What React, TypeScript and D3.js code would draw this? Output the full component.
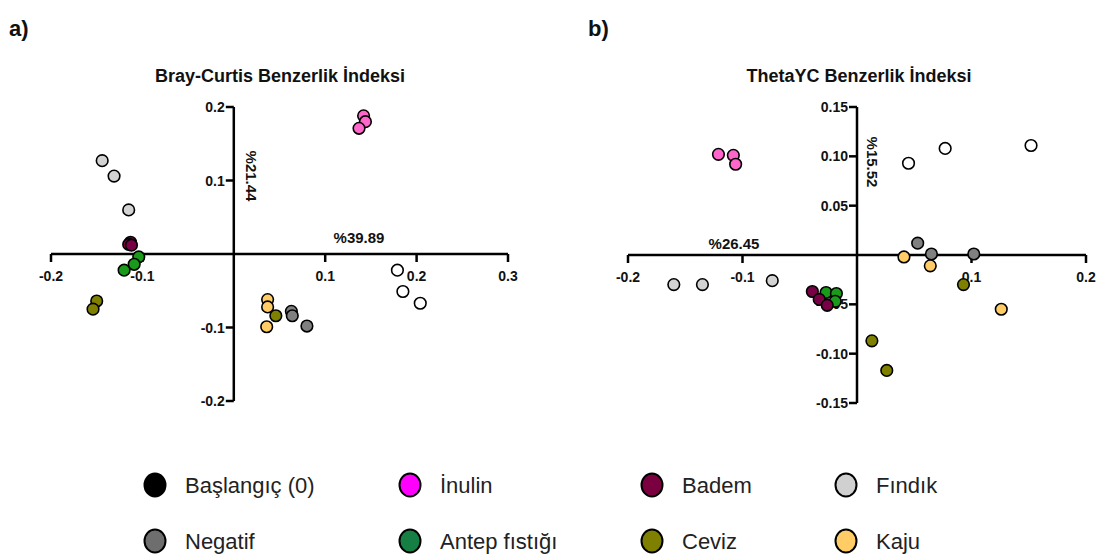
import React from "react";
import * as d3 from "d3";

type Pt = [number, number];

const groups = ["Başlangıç (0)", "İnulin", "Badem", "Fındık", "Negatif", "Antep fıstığı", "Ceviz", "Kaju"];
const legendColors = ["#000000", "#ff00ff", "#7a0040", "#d0d0d0", "#6e6e6e", "#168044", "#7f7f00", "#ffcc66"];
const pointColors = ["#ffffff", "#ff66cc", "#7a0046", "#d3d3d3", "#808080", "#1a9a1a", "#808000", "#ffcc66"];

// Panel a: Bray-Curtis
const bcBaslangic: Pt[] = [[0.179, -0.022], [0.185, -0.051], [0.204, -0.067]];
const bcInulin: Pt[] = [[0.142, 0.188], [0.144, 0.180], [0.137, 0.171]];
const bcBadem: Pt[] = [[-0.113, 0.016], [-0.115, 0.013], [-0.112, 0.012]];
const bcFindik: Pt[] = [[-0.144, 0.127], [-0.131, 0.106], [-0.115, 0.060]];
const bcNegatif: Pt[] = [[0.063, -0.078], [0.064, -0.084], [0.080, -0.098]];
const bcAntep: Pt[] = [[-0.104, -0.004], [-0.109, -0.014], [-0.120, -0.022]];
const bcCeviz: Pt[] = [[-0.150, -0.064], [-0.154, -0.075], [0.046, -0.084]];
const bcKaju: Pt[] = [[0.037, -0.062], [0.037, -0.072], [0.036, -0.099]];

// Panel b: ThetaYC
const tyBaslangic: Pt[] = [[0.045, 0.093], [0.077, 0.108], [0.152, 0.111]];
const tyInulin: Pt[] = [[-0.121, 0.102], [-0.108, 0.101], [-0.106, 0.092]];
const tyFindik: Pt[] = [[-0.160, -0.030], [-0.135, -0.030], [-0.074, -0.026]];
const tyNegatif: Pt[] = [[0.053, 0.012], [0.065, 0.001], [0.102, 0.001]];
const tyAntep: Pt[] = [[-0.027, -0.038], [-0.018, -0.039], [-0.019, -0.047]];
const tyBadem: Pt[] = [[-0.039, -0.037], [-0.033, -0.045], [-0.026, -0.051]];
const tyCeviz: Pt[] = [[0.013, -0.087], [0.026, -0.117], [0.093, -0.030]];
const tyKaju: Pt[] = [[0.041, -0.002], [0.064, -0.011], [0.126, -0.055]];

const bcXTicks = [-0.2, -0.1, 0.1, 0.2, 0.3];
const bcYTicks = [0.2, 0.1, -0.1, -0.2];
const tyXTicks = [-0.2, -0.1, 0.1, 0.2];
const tyYTicks = [0.15, 0.1, 0.05, -0.05, -0.1, -0.15];

const FONT = "Liberation Sans, Arial, Helvetica, sans-serif";

interface PanelProps {
  label: string;
  title: string;
  xDomain: [number, number];
  yDomain: [number, number];
  xRange: [number, number];
  yRange: [number, number];
  xTicks: number[];
  yTicks: number[];
  xFmt: (v: number) => string;
  yFmt: (v: number) => string;
  series: { data: Pt[]; color: string }[];
  labelPos: [number, number];
  titleX: number;
  xLab: string;
  xLabPos: [number, number];
  yLab: string;
  yLabPos: [number, number];
}

function Panel(p: PanelProps) {
  const x = d3.scaleLinear().domain(p.xDomain).range(p.xRange);
  const y = d3.scaleLinear().domain(p.yDomain).range(p.yRange);
  const x0 = x(0);
  const y0 = y(0);
  return (
    <g fontFamily={FONT}>
      <text x={p.labelPos[0]} y={p.labelPos[1]} fontSize={22} fontWeight="bold" fill="#111">{p.label}</text>
      <text x={p.titleX} y={82} fontSize={18} fontWeight="bold" textAnchor="middle" fill="#111">{p.title}</text>
      {/* x axis */}
      <line x1={x(p.xDomain[0])} x2={x(p.xDomain[1])} y1={y0} y2={y0} stroke="#000" strokeWidth={2.5} />
      {p.xTicks.map((t) => (
        <g key={"xt" + t}>
          <line x1={x(t)} x2={x(t)} y1={y0} y2={y0 + 8} stroke="#000" strokeWidth={2.5} />
          <text x={x(t)} y={y0 + 27} fontSize={14} fontWeight="bold" textAnchor="middle" fill="#111">{p.xFmt(t)}</text>
        </g>
      ))}
      {/* y axis */}
      <line x1={x0} x2={x0} y1={y(p.yDomain[0])} y2={y(p.yDomain[1])} stroke="#000" strokeWidth={2.5} />
      {p.yTicks.map((t) => (
        <g key={"yt" + t}>
          <line x1={x0 - 8} x2={x0} y1={y(t)} y2={y(t)} stroke="#000" strokeWidth={2.5} />
          <text x={x0 - 9} y={y(t) + 5} fontSize={14} fontWeight="bold" textAnchor="end" fill="#111">{p.yFmt(t)}</text>
        </g>
      ))}
      <text x={p.xLabPos[0]} y={p.xLabPos[1]} fontSize={15} fontWeight="bold" textAnchor="middle" dominantBaseline="central" fill="#111">{p.xLab}</text>
      <text transform={`translate(${p.yLabPos[0]},${p.yLabPos[1]}) rotate(90)`} fontSize={15} fontWeight="bold" textAnchor="middle" dominantBaseline="central" fill="#111">{p.yLab}</text>
      {p.series.map((s, i) => (
        <g key={"s" + i}>
          {s.data.map((d, j) => (
            <circle key={j} cx={x(d[0])} cy={y(d[1])} r={5.8} fill={s.color} stroke="#000" strokeWidth={1.6} />
          ))}
        </g>
      ))}
    </g>
  );
}

const fmt1 = (v: number) => d3.format(".1f")(v).replace("\u2212", "-");
const fmt2 = (v: number) => d3.format(".2f")(v).replace("\u2212", "-");

export default function App() {
  const bcSeries = [
    { data: bcBaslangic, color: pointColors[0] },
    { data: bcFindik, color: pointColors[3] },
    { data: bcNegatif, color: pointColors[4] },
    { data: bcKaju, color: pointColors[7] },
    { data: bcCeviz, color: pointColors[6] },
    { data: bcInulin, color: pointColors[1] },
    { data: bcBadem, color: pointColors[2] },
    { data: bcAntep, color: pointColors[5] },
  ];
  const tySeries = [
    { data: tyBaslangic, color: pointColors[0] },
    { data: tyFindik, color: pointColors[3] },
    { data: tyNegatif, color: pointColors[4] },
    { data: tyKaju, color: pointColors[7] },
    { data: tyCeviz, color: pointColors[6] },
    { data: tyInulin, color: pointColors[1] },
    { data: tyAntep, color: pointColors[5] },
    { data: tyBadem, color: pointColors[2] },
  ];
  const legendX = [155, 410, 652, 846];
  const legendY = [485, 541];
  return (
    <svg width={1100} height={559} style={{ position: "absolute", left: 0, top: 0, background: "#fff" }}>
      <rect width={1100} height={559} fill="#fff" />
      <Panel
        label="a)"
        title="Bray-Curtis Benzerlik İndeksi"
        xDomain={[-0.2, 0.3]}
        yDomain={[-0.2, 0.2]}
        xRange={[51, 508]}
        yRange={[401, 107]}
        xTicks={bcXTicks}
        yTicks={bcYTicks}
        xFmt={fmt1}
        yFmt={fmt1}
        series={bcSeries}
        labelPos={[9, 36]}
        titleX={280}
        xLab="%39.89"
        xLabPos={[359, 237]}
        yLab="%21.44"
        yLabPos={[251, 176]}
      />
      <Panel
        label="b)"
        title="ThetaYC Benzerlik İndeksi"
        xDomain={[-0.2, 0.2]}
        yDomain={[-0.15, 0.15]}
        xRange={[628, 1086]}
        yRange={[403, 107]}
        xTicks={tyXTicks}
        yTicks={tyYTicks}
        xFmt={fmt1}
        yFmt={fmt2}
        series={tySeries}
        labelPos={[588, 36]}
        titleX={859}
        xLab="%26.45"
        xLabPos={[734, 243]}
        yLab="%15.52"
        yLabPos={[872, 162]}
      />
      <g fontFamily={FONT}>
        {groups.map((g, i) => {
          const cx = legendX[i % 4];
          const cy = legendY[Math.floor(i / 4)];
          return (
            <g key={g}>
              <ellipse cx={cx} cy={cy} rx={10.5} ry={11.5} fill={legendColors[i]} stroke="#000" strokeWidth={2} />
              <text x={cx + 30} y={cy + 8} fontSize={22} fill="#222">{g}</text>
            </g>
          );
        })}
      </g>
    </svg>
  );
}
